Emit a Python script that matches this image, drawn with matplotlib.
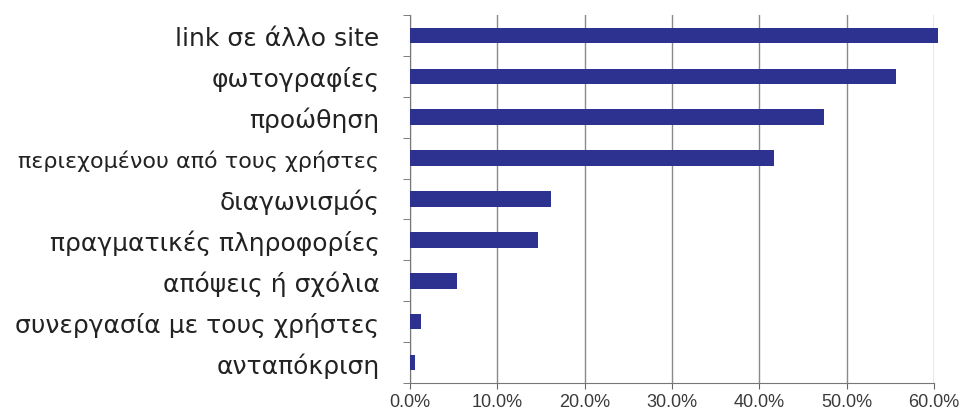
import matplotlib.pyplot as plt
import numpy as np
from matplotlib.ticker import FixedLocator

# Κατηγορίες και ποσοστά (από πάνω προς τα κάτω)
categories = [
    "link σε άλλο site",
    "φωτογραφίες",
    "προώθηση",
    "περιεχομένου από τους χρήστες",
    "διαγωνισμός",
    "πραγματικές πληροφορίες",
    "απόψεις ή σχόλια",
    "συνεργασία με τους χρήστες",
    "ανταπόκριση",
]
values = [60.4, 55.6, 47.4, 41.7, 16.1, 14.7, 5.4, 1.2, 0.6]
x_ticks = [0, 10, 20, 30, 40, 50, 60]

fig = plt.figure(figsize=(9.73, 4.14), dpi=100)
ax = fig.add_axes([0.4214, 0.0725, 0.5386, 0.8889])

pos = np.arange(len(categories))
bars = ax.barh(pos, values, height=0.38, color="#2d3190", zorder=3)
for b in bars:
    b.set_clip_on(False)

ax.set_xlim(0, 60)
ax.set_ylim(len(categories) - 0.5, -0.5)

# Κάθετες γραμμές πλέγματος
ax.set_xticks(x_ticks)
ax.set_xticklabels([f"{t:.1f}%" for t in x_ticks], fontsize=13,
                   color="#3a3a3a", family="Liberation Sans")
ax.grid(axis="x", color="#8a8a8a", linewidth=1.0, zorder=0)

# Ετικέτες κατηγοριών και μικρές γραμμές στα όρια
ax.set_yticks(pos)
ax.set_yticklabels(categories, fontsize=18, color="#222222", family="DejaVu Sans")
ax.get_yticklabels()[3].set_fontsize(16)
ax.yaxis.set_minor_locator(FixedLocator(np.arange(-0.5, len(categories), 1)))
ax.tick_params(axis="y", which="major", length=0, pad=22)
ax.tick_params(axis="y", which="minor", length=5, color="#666666", direction="out")
ax.tick_params(axis="x", length=4, color="#666666", pad=3)

for side in ["top", "right"]:
    ax.spines[side].set_visible(False)
for side in ["left", "bottom"]:
    ax.spines[side].set_color("#777777")

fig.savefig("out.png", dpi=100)
